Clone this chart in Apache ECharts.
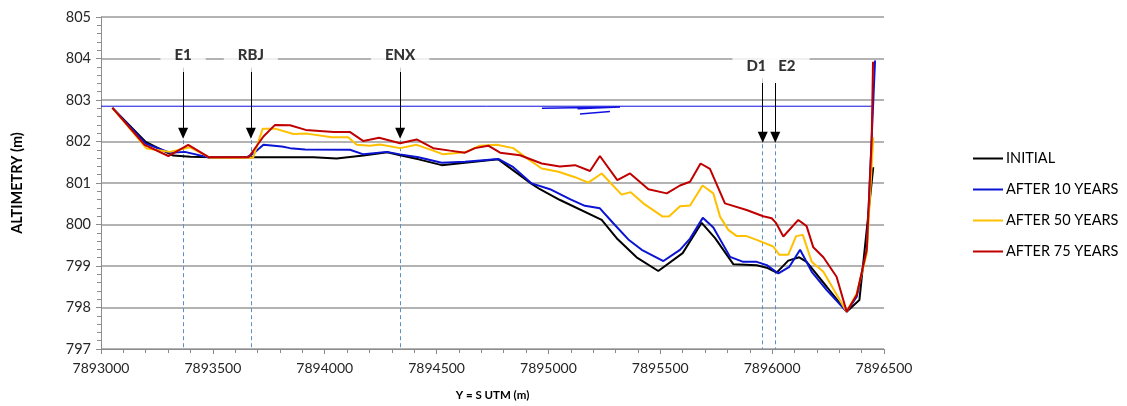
<!DOCTYPE html>
<html>
<head>
<meta charset="utf-8">
<script src="https://cdn.jsdelivr.net/npm/echarts@6/dist/echarts.min.js"></script>
<style>
html,body{margin:0;padding:0;background:#fff;}
#chart{width:1127px;height:406px;}
</style>
</head>
<body>
<div id="chart"></div>
<script>
// ---- DATA ----
const seriesNames = ['INITIAL', 'AFTER 10 YEARS', 'AFTER 50 YEARS', 'AFTER 75 YEARS'];

const initialX = [7893051,7893200,7893323,7893400,7893500,7893650,7893800,7893950,7894053,7894173,7894280,7894337,7894420,7894523,7894627,7894776,7894925,7894962,7895052,7895238,7895305,7895394,7895491,7895600,7895685,7895745,7895827,7895931,7895976,7896020,7896072,7896121,7896154,7896244,7896333,7896390,7896452];
const initialY = [802.81,801.99,801.66,801.63,801.62,801.62,801.62,801.62,801.59,801.66,801.74,801.67,801.57,801.43,801.49,801.57,800.98,800.85,800.59,800.11,799.67,799.21,798.88,799.31,800.04,799.67,799.04,799.02,798.96,798.84,799.13,799.21,799.10,798.50,797.90,798.18,801.38];

const y10X = [7893051,7893200,7893308,7893375,7893487,7893650,7893681,7893726,7893808,7893845,7893912,7894113,7894173,7894277,7894337,7894419,7894523,7894627,7894776,7894843,7894925,7895007,7895096,7895163,7895230,7895290,7895357,7895417,7895514,7895588,7895633,7895690,7895737,7895812,7895871,7895931,7895976,7896028,7896077,7896125,7896177,7896244,7896333,7896378,7896423,7896460];
const y10Y = [802.81,801.95,801.73,801.75,801.61,801.62,801.71,801.92,801.88,801.84,801.81,801.80,801.69,801.75,801.69,801.62,801.49,801.51,801.58,801.38,800.99,800.85,800.61,800.45,800.39,800.03,799.64,799.39,799.12,799.39,799.66,800.16,799.93,799.22,799.10,799.10,799.02,798.82,798.98,799.39,798.86,798.42,797.90,798.26,799.39,803.95];

const y50X = [7893051,7893204,7893308,7893398,7893487,7893680,7893723,7893778,7893860,7893920,7894031,7894105,7894143,7894202,7894247,7894337,7894411,7894485,7894530,7894627,7894694,7894769,7894843,7894895,7894970,7895045,7895119,7895178,7895238,7895327,7895368,7895424,7895511,7895540,7895588,7895633,7895689,7895737,7895767,7895804,7895842,7895886,7895931,7896005,7896032,7896072,7896107,7896137,7896177,7896229,7896333,7896378,7896423,7896452];
const y50Y = [802.81,801.83,801.75,801.86,801.61,801.61,802.31,802.31,802.18,802.19,802.10,802.10,801.92,801.90,801.93,801.84,801.92,801.78,801.69,801.74,801.90,801.92,801.84,801.63,801.35,801.27,801.14,801.01,801.23,800.72,800.78,800.51,800.19,800.20,800.44,800.46,800.94,800.75,800.19,799.87,799.72,799.72,799.63,799.47,799.27,799.27,799.72,799.75,799.10,798.86,797.90,798.34,799.31,802.10];

const y75X = [7893051,7893195,7893301,7893390,7893483,7893660,7893726,7893778,7893845,7893915,7894040,7894112,7894173,7894243,7894337,7894411,7894485,7894560,7894627,7894672,7894731,7894784,7894873,7894970,7895051,7895119,7895186,7895230,7895308,7895365,7895447,7895529,7895588,7895633,7895680,7895722,7895789,7895886,7895960,7895998,7896017,7896050,7896117,7896154,7896184,7896229,7896288,7896333,7896378,7896423,7896445,7896451];
const y75Y = [802.81,801.92,801.65,801.92,801.62,801.62,802.12,802.40,802.39,802.28,802.23,802.23,802.01,802.09,801.96,802.05,801.84,801.78,801.73,801.84,801.90,801.73,801.67,801.47,801.40,801.43,801.29,801.65,801.07,801.23,800.85,800.75,800.94,801.03,801.47,801.34,800.51,800.35,800.20,800.15,800.04,799.71,800.11,799.96,799.45,799.21,798.74,797.90,798.30,799.39,802.04,803.92];

// reference water level line and small artifact strokes
const levelX = [7893000, 7896446];
const levelY = [802.85, 802.85];
const artifactX = [7894971, 7895320, 7895130];
const artifactY = [802.80, 802.83, 802.79];
const artifact2X = [7895141, 7895275];
const artifact2Y = [802.66, 802.72];

// section markers
const markerNames = ['E1', 'RBJ', 'ENX', 'D1', 'E2'];
const markerX = [7893367, 7893670, 7894337, 7895958, 7896014];
const arrowTop = [803.78, 803.78, 803.78, 803.52, 803.50];
const arrowBottom = [802.2, 802.2, 802.2, 802.1, 802.1];
const labelX = [7893367, 7893670, 7894337, 7895930, 7896066];
const labelY = [804.07, 804.07, 804.07, 803.81, 803.81];

// axis ticks
const xMin = 7893000, xMax = 7896500, xStep = 500;
const yMin = 797, yMax = 805, yStep = 1;

const colors = ['#000000', '#0a14d2', '#ffc000', '#c00000'];
const FONT = 'Lato, "Open Sans", sans-serif';

function zip(xs, ys) { return xs.map((x, i) => [x, ys[i]]); }

const chart = echarts.init(document.getElementById('chart'), null, {renderer: 'canvas'});

const mainSeries = [
  [initialX, initialY], [y10X, y10Y], [y50X, y50Y], [y75X, y75Y]
].map((d, i) => ({
  name: seriesNames[i],
  type: 'line',
  data: zip(d[0], d[1]),
  showSymbol: false,
  symbol: 'none',
  lineStyle: {color: colors[i], width: 2},
  itemStyle: {color: colors[i]},
  z: 5 + i,
  animation: false
}));

const option = {
  animation: false,
  backgroundColor: '#fff',
  grid: {left: 101, right: 243, top: 17, bottom: 57, containLabel: false},
  xAxis: {
    type: 'value', min: xMin, max: xMax, interval: xStep,
    name: 'Y = S UTM (m)', nameLocation: 'middle', nameGap: 40,
    nameTextStyle: {fontFamily: FONT, fontWeight: 'bold', fontSize: 11.5, color: '#000'},
    axisLine: {lineStyle: {color: '#8c8c8c', width: 1}},
    axisTick: {show: true, length: 5, inside: false, lineStyle: {color: '#8c8c8c'}},
    minorTick: {show: true, splitNumber: 5, length: 4, lineStyle: {color: '#8c8c8c'}},
    axisLabel: {fontFamily: FONT, fontSize: 14, color: '#262626', margin: 12, formatter: v => String(v)},
    splitLine: {show: false}
  },
  yAxis: {
    type: 'value', min: yMin, max: yMax, interval: yStep,
    name: 'ALTIMETRY (m)', nameLocation: 'middle', nameGap: 76, nameRotate: 90,
    nameTextStyle: {fontFamily: FONT, fontWeight: 'bold', fontSize: 14.5, color: '#000'},
    axisLine: {show: true, lineStyle: {color: '#8c8c8c', width: 1}},
    axisTick: {show: true, length: 5, lineStyle: {color: '#8c8c8c'}},
    minorTick: {show: true, splitNumber: 5, length: 4, lineStyle: {color: '#8c8c8c'}},
    axisLabel: {fontFamily: FONT, fontSize: 14.5, color: '#262626', margin: 10},
    splitLine: {show: true, lineStyle: {color: '#b3b3b3', width: 2}}
  },
  legend: {
    orient: 'vertical', left: 968, top: 146,
    data: seriesNames.map(n => ({name: n, icon: 'rect'})),
    itemWidth: 30, itemHeight: 2, itemGap: 16,
    textStyle: {fontFamily: FONT, fontSize: 14.5, color: '#000', padding: [0, 0, 0, -2]},
    selectedMode: false
  },
  series: [
    {
      name: 'level', type: 'line', data: zip(levelX, levelY), symbol: 'none',
      lineStyle: {color: '#1010e0', width: 1}, z: 3, silent: true
    },
    {
      name: 'artifact', type: 'line', data: zip(artifactX, artifactY), symbol: 'none',
      lineStyle: {color: '#1010e0', width: 1.5}, z: 3, silent: true
    },
    {
      name: 'artifact2', type: 'line', data: zip(artifact2X, artifact2Y), symbol: 'none',
      lineStyle: {color: '#1010e0', width: 1.5}, z: 3, silent: true
    },
    {
      name: 'markers', type: 'line', data: [], symbol: 'none', z: 2, silent: true,
      markLine: {
        silent: true, symbol: ['none', 'none'],
        lineStyle: {color: '#5b8fc8', type: [4, 3], width: 1},
        label: {show: false},
        data: markerX.map((x, i) => [{coord: [x, arrowBottom[i]]}, {coord: [x, yMin]}])
      }
    },
    ...mainSeries,
    {
      name: 'labels', type: 'scatter', z: 20, silent: true,
      data: labelX.map((x, i) => ({value: [x, labelY[i]], name: markerNames[i]})),
      symbolSize: 0,
      label: {
        show: true, position: 'inside', formatter: p => p.name,
        fontFamily: FONT, fontWeight: 900, fontSize: 15, color: '#000',
        backgroundColor: '#fff', padding: [8, 14, 10, 14]
      }
    },
    {
      name: 'arrows', type: 'line', data: [], symbol: 'none', z: 21, silent: true,
      markLine: {
        silent: true, symbol: ['none', 'triangle'], symbolSize: [10, 11],
        lineStyle: {color: '#000', type: 'solid', width: 1},
        label: {show: false},
        data: markerX.map((x, i) => [{coord: [x, arrowTop[i]]}, {coord: [x, arrowBottom[i]]}])
      }
    }
  ]
};
chart.setOption(option);
</script>
</body>
</html>
